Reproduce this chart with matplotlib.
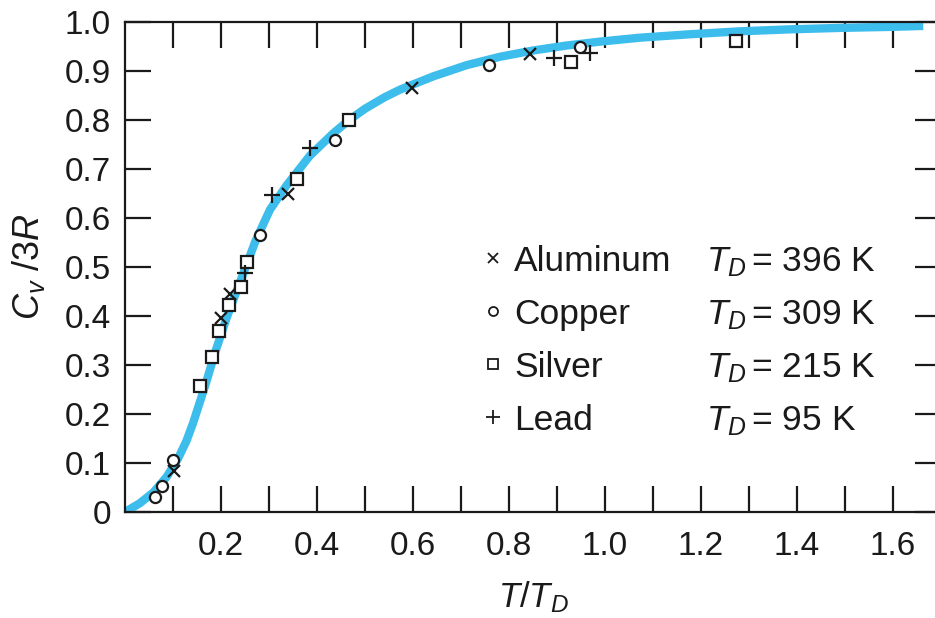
import matplotlib
matplotlib.use("Agg")
import matplotlib.pyplot as plt
import numpy as np

plt.rcParams['font.family'] = ['Liberation Sans', 'DejaVu Sans']
plt.rcParams['mathtext.fontset'] = 'custom'
plt.rcParams['mathtext.rm'] = 'Liberation Sans'
plt.rcParams['mathtext.it'] = 'Liberation Sans:italic'
plt.rcParams['mathtext.bf'] = 'Liberation Sans:bold'

# Debye curve
curve_x = [0, 0.031, 0.059, 0.087, 0.111, 0.128, 0.142, 0.167, 0.1875, 0.212, 0.233,
           0.2535, 0.271, 0.302, 0.337, 0.385, 0.434, 0.467, 0.50, 0.54, 0.573, 0.642,
           0.712, 0.781, 0.851, 0.920, 0.990, 1.073, 1.177, 1.281, 1.385, 1.490, 1.594, 1.663]
curve_y = [0, 0.018, 0.040, 0.072, 0.110, 0.145, 0.182, 0.258, 0.325, 0.397, 0.452,
           0.505, 0.551, 0.617, 0.667, 0.727, 0.773, 0.800, 0.823, 0.846, 0.862, 0.889,
           0.912, 0.929, 0.942, 0.952, 0.960, 0.968, 0.975, 0.981, 0.985, 0.988, 0.990, 0.992]

# Experimental points
al_x = [0.102, 0.200, 0.219, 0.340, 0.597, 0.844]
al_y = [0.083, 0.395, 0.444, 0.649, 0.865, 0.934]
cu_x = [0.0625, 0.078, 0.101, 0.281, 0.4375, 0.759, 0.948]
cu_y = [0.030, 0.054, 0.106, 0.565, 0.759, 0.912, 0.950]
ag_x = [0.156, 0.182, 0.196, 0.217, 0.241, 0.2535, 0.358, 0.467, 0.929, 1.272]
ag_y = [0.258, 0.317, 0.370, 0.422, 0.459, 0.511, 0.680, 0.800, 0.919, 0.961]
pb_x = [0.250, 0.306, 0.385, 0.894, 0.969]
pb_y = [0.487, 0.647, 0.742, 0.926, 0.936]

metals = ['Aluminum', 'Copper', 'Silver', 'Lead']
debye_T = ['396', '309', '215', '95']

x_ticks = [0.1, 0.2, 0.3, 0.4, 0.5, 0.6, 0.7, 0.8, 0.9, 1.0, 1.1, 1.2, 1.3, 1.4, 1.5, 1.6]
x_ticklabels = ['', '0.2', '', '0.4', '', '0.6', '', '0.8', '', '1.0', '', '1.2', '', '1.4', '', '1.6']
y_ticks = [0, 0.1, 0.2, 0.3, 0.4, 0.5, 0.6, 0.7, 0.8, 0.9, 1.0]
y_ticklabels = ['0', '0.1', '0.2', '0.3', '0.4', '0.5', '0.6', '0.7', '0.8', '0.9', '1.0']

W, H = 935, 618
fig = plt.figure(figsize=(W / 100, H / 100), dpi=100)
L, R, B, T = 125, 941, 512, 22
ax = fig.add_axes([L / W, 1 - B / H, (R - L) / W, (B - T) / H])
ax.set_xlim(0, 1.70)
ax.set_ylim(0, 1.0)

blue = '#3DBDEB'
ax.plot(curve_x, curve_y, color=blue, lw=6.0, solid_capstyle='butt',
        solid_joinstyle='round', zorder=2)

mk = dict(ls='none', color='#1a1a1a', zorder=3)
ax.plot(al_x, al_y, marker='x', ms=8.5, mew=1.6, **mk)
ax.plot(cu_x, cu_y, marker='o', ms=8, mew=1.6, mfc='white', **mk)
ax.plot(ag_x, ag_y, marker='s', ms=9, mew=1.6, mfc='white', **mk)
ax.plot(pb_x, pb_y, marker='+', ms=11, mew=1.6, **mk)

for s in ax.spines.values():
    s.set_linewidth(1.6)
    s.set_color('#1a1a1a')

ax.set_xticks(x_ticks)
ax.set_xticklabels(x_ticklabels)
ax.set_yticks(y_ticks)
ax.set_yticklabels(y_ticklabels)
ax.tick_params(axis='both', direction='in', length=19, width=1.6, color='#1a1a1a',
               labelsize=24, labelcolor='#1a1a1a', top=True, right=True)
ax.tick_params(axis='x', pad=14)
ax.tick_params(axis='y', pad=10)

ax.set_xlabel(r'$T/T_D$', fontsize=25, color='#1a1a1a', labelpad=12)
ax.set_ylabel(r'$C_v$ /3$R$', fontsize=26, color='#1a1a1a', labelpad=13)

# key
rows_y = [258, 311, 364, 417]
sym = [dict(marker='x', ms=7.5, mew=1.3), dict(marker='o', ms=6.5, mew=1.3, mfc='white'),
       dict(marker='s', ms=7, mew=1.3, mfc='white'), dict(marker='+', ms=10, mew=1.3)]
for i, (name, td) in enumerate(zip(metals, debye_T)):
    yy = (B - rows_y[i]) / (B - T)
    ax.plot([(493 - L) / (R - L)], [yy], transform=ax.transAxes, ls='none',
            color='#1a1a1a', clip_on=False, zorder=4, **sym[i])
    ax.text((514 - L) / (R - L), yy, name, transform=ax.transAxes, fontsize=25.5,
            va='center_baseline', ha='left', color='#1a1a1a')
    ax.text((706 - L) / (R - L), yy, r'$T_D\,$= ' + td + ' K', transform=ax.transAxes,
            fontsize=25.5, va='center_baseline', ha='left', color='#1a1a1a')

fig.savefig('out.png', dpi=100)
